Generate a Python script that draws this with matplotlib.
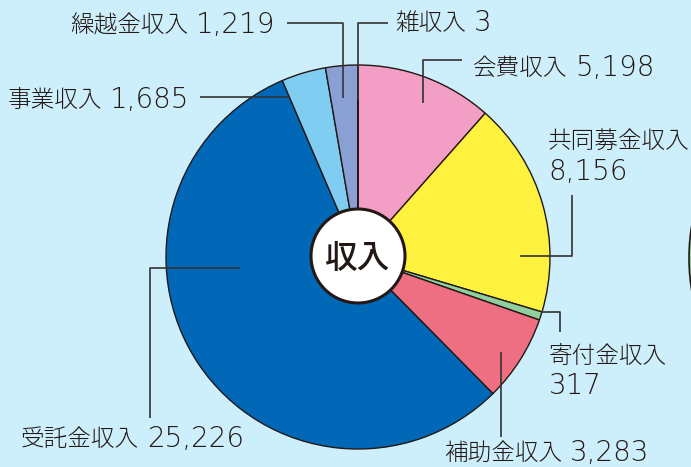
import matplotlib.pyplot as plt
from matplotlib.patches import Circle

plt.rcParams['font.family'] = ['Noto Sans CJK JP', 'DejaVu Sans']

labels = ["会費収入", "共同募金収入", "寄付金収入", "補助金収入",
          "受託金収入", "事業収入", "繰越金収入", "雑収入"]
values = [5198, 8156, 317, 3283, 25226, 1685, 1219, 3]
colors = ["#f29ec5", "#fff23e", "#8fd09e", "#ee6f81",
          "#0068b6", "#7fcdf1", "#8a9fd4", "#8a9fd4"]

W, H = 691, 467
bg = "#cdeffb"
ink = "#231815"

fig = plt.figure(figsize=(W / 100, H / 100), dpi=100, facecolor=bg)
ax = fig.add_axes([0, 0, 1, 1])


def py(y):
    # pixel row from the top -> data y
    return H - y


cx, cy, r = 358, py(257), 192

# partial pie of the neighbouring chart at the right edge
ax.add_patch(Circle((886, py(258)), 197, facecolor="#8fd09e", edgecolor=ink, lw=1.2))

ax.pie(values, colors=colors, startangle=90, counterclock=False,
       center=(cx, cy), radius=r, frame=True,
       wedgeprops=dict(edgecolor=ink, linewidth=1.0))
ax.set_xlim(0, W)
ax.set_ylim(0, H)
ax.set_aspect("equal")
ax.axis("off")

ax.add_patch(Circle((cx, py(256)), 47, facecolor="white", edgecolor=ink, lw=2.2, zorder=5))
ax.text(cx, py(258), "収入", fontsize=23.5, ha="center", va="center",
        color=ink, fontweight="medium", zorder=6)

lc = "#333333"
lw = 1.2
num_font = dict(fontsize=20, color=ink, family=['DejaVu Sans'], fontweight=200)


def leader(pts):
    xs = [p[0] for p in pts]
    ys = [py(p[1]) for p in pts]
    ax.plot(xs, ys, color=lc, lw=lw, solid_capstyle="butt", zorder=4)


def label(x, y, name, num, two_lines=False):
    # CJK part and the number are set separately, the number in a wider face
    t = ax.text(x, py(y), name, fontsize=17, color=ink, ha="left", va="baseline",
                fontweight="light", family=['Noto Sans CJK JP', 'DejaVu Sans'])
    if two_lines:
        ax.text(x, py(y + 31), num, ha="left", va="baseline", **num_font)
    else:
        ax.annotate(num, xy=(1, py(y + 1)), xycoords=(t, "data"), xytext=(5.5, 0),
                    textcoords="offset points", ha="left", va="baseline", **num_font)


def fmt(v):
    return f"{v:,}"


# baselines are given in pixel rows
# 繰越金収入
leader([(287, 23), (343, 23), (343, 98)])
label(70, 32, labels[6], fmt(values[6]))
# 雑収入
leader([(388, 23), (358, 23), (358, 100)])
label(395, 30, labels[7], fmt(values[7]))
# 会費収入
leader([(462, 60), (423, 60), (423, 103)])
label(473, 75, labels[0], fmt(values[0]))
# 共同募金収入
leader([(572, 195), (572, 256), (520, 256)])
label(548, 149, labels[1], fmt(values[1]), two_lines=True)
# 寄付金収入
leader([(541, 312), (560, 312), (560, 332)])
label(549, 363, labels[2], fmt(values[2]), two_lines=True)
# 補助金収入
leader([(501, 352), (501, 437)])
label(444, 460, labels[3], fmt(values[3]))
# 受託金収入
leader([(240, 268), (150, 268), (150, 418)])
label(21, 446, labels[4], fmt(values[4]))
# 事業収入
leader([(200, 97), (290, 97)])
label(8, 107, labels[5], fmt(values[5]))

fig.savefig("out.png", dpi=100, facecolor=bg)
